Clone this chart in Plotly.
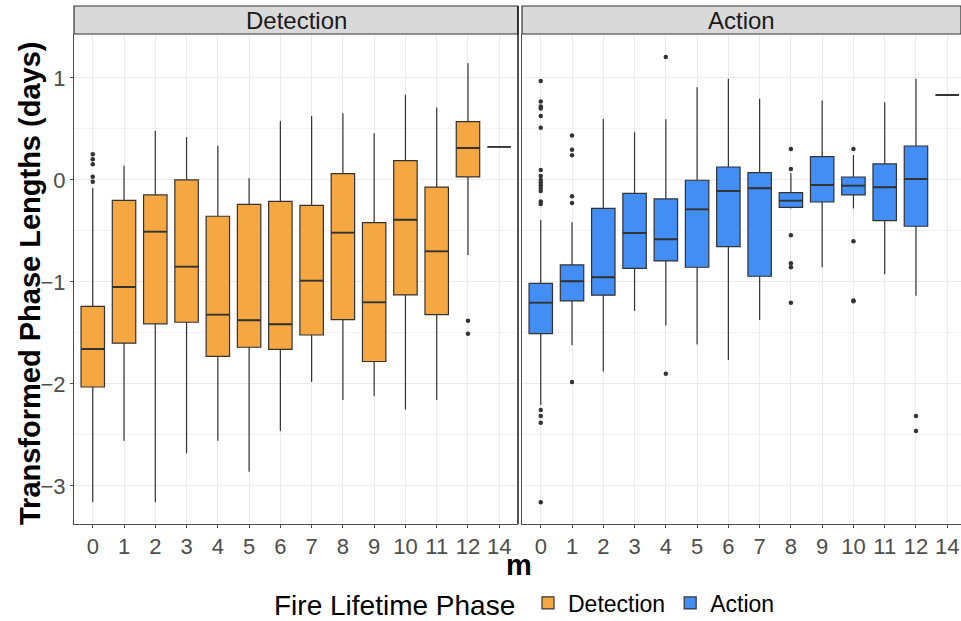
import plotly.graph_objects as go

cats = ["0", "1", "2", "3", "4", "5", "6", "7", "8", "9", "10", "11", "12", "14"]

# Detection panel box statistics
det_low = [-3.16, -2.556, -3.16, -2.68, -2.556, -2.86, -2.46, -1.98, -2.157, -2.12, -2.25, -2.157, -0.735, 0.324]
det_q1 = [-2.03, -1.60, -1.41, -1.395, -1.73, -1.64, -1.66, -1.52, -1.37, -1.78, -1.127, -1.32, 0.03, 0.324]
det_med = [-1.657, -1.05, -0.507, -0.85, -1.32, -1.376, -1.415, -0.987, -0.516, -1.20, -0.39, -0.70, 0.314, 0.324]
det_q3 = [-1.24, -0.20, -0.147, 0.0, -0.356, -0.24, -0.21, -0.25, 0.062, -0.418, 0.19, -0.07, 0.572, 0.324]
det_high = [-0.08, 0.14, 0.48, 0.42, 0.336, 0.016, 0.578, 0.627, 0.654, 0.457, 0.836, 0.71, 1.144, 0.324]
det_out_x = ["0", "0", "0", "0", "0", "12", "12"]
det_out_y = [0.252, 0.203, 0.154, 0.032, -0.017, -1.38, -1.507]

# Action panel box statistics
act_low = [-2.206, -1.62, -1.879, -1.284, -1.428, -1.614, -1.765, -1.373, -0.28, -0.856, -0.281, -0.925, -1.134, 0.833]
act_q1 = [-1.507, -1.186, -1.13, -0.866, -0.794, -0.856, -0.654, -0.944, -0.268, -0.216, -0.147, -0.399, -0.454, 0.833]
act_med = [-1.203, -0.993, -0.954, -0.52, -0.582, -0.288, -0.108, -0.082, -0.203, -0.049, -0.056, -0.072, 0.01, 0.833]
act_q3 = [-1.013, -0.833, -0.278, -0.131, -0.186, -0.003, 0.127, 0.072, -0.124, 0.229, 0.029, 0.157, 0.333, 0.833]
act_high = [-0.392, -0.415, 0.598, 0.467, 0.595, 0.908, 0.993, 0.797, 0.065, 0.778, 0.245, 0.761, 0.993, 0.833]
act_out_x = (["0"] * 19 + ["1"] * 6 + ["4", "4"] + ["8"] * 6 + ["10"] * 4 + ["12", "12"])
act_out_y = [0.97, 0.77, 0.72, 0.70, 0.627, 0.513, 0.098, 0.04, 0.0, -0.026, -0.052, -0.078, -0.108,
             -0.21, -0.235, -2.255, -2.314, -2.38, -3.16,
             0.435, 0.297, 0.242, -0.16, -0.225, -1.98,
             1.206, -1.90,
             0.304, 0.108, -0.542, -0.817, -0.856, -1.203,
             0.304, -0.601, -1.183, -1.19,
             -2.314, -2.461]

phases = ["Detection", "Action"]
fills = ["#F5A742", "#428EF4"]
line_col = "#333333"
FONT = "Liberation Sans, Arial, sans-serif"

fig = go.Figure()
stats = [(det_low, det_q1, det_med, det_q3, det_high, det_out_x, det_out_y),
         (act_low, act_q1, act_med, act_q3, act_high, act_out_x, act_out_y)]
for i, (lo, q1, md, q3, hi, ox, oy) in enumerate(stats):
    xa = "x" if i == 0 else "x2"
    ya = "y" if i == 0 else "y2"
    fig.add_trace(go.Box(
        name=phases[i], x=cats, q1=q1, median=md, q3=q3,
        lowerfence=lo, upperfence=hi, fillcolor=fills[i],
        line=dict(color=line_col, width=1.2), width=0.75, whiskerwidth=0,
        boxpoints=False, xaxis=xa, yaxis=ya, showlegend=True, hoverinfo="skip"))
    # thicker median bar (ggplot's fatten)
    fig.add_trace(go.Box(
        name=phases[i] + " median", x=cats, q1=md, median=md, q3=md,
        lowerfence=md, upperfence=md, fillcolor="rgba(0,0,0,0)",
        line=dict(color=line_col, width=1.9), width=0.75, whiskerwidth=0,
        boxpoints=False, xaxis=xa, yaxis=ya, showlegend=False, hoverinfo="skip"))
    fig.add_trace(go.Scatter(
        x=ox, y=oy, mode="markers", marker=dict(color=line_col, size=4.5),
        xaxis=xa, yaxis=ya, showlegend=False, hoverinfo="skip", cliponaxis=False))

W, H = 961, 621
ml, mr, mt, mb = 74, 0, 34, 97
pw = W - ml - mr
ph = H - mt - mb


def px(xw):
    return (xw - ml) / pw


def py(yw):
    return (H - mb - yw) / ph


yr = [-3.373, 1.431]
grid = "#EBEBEB"
axis_common = dict(
    type="category", categoryorder="array", categoryarray=cats,
    showgrid=True, gridcolor=grid, gridwidth=1.1,
    showline=True, linecolor="#4D4D4D", linewidth=1.1,
    ticks="outside", ticklen=3, tickcolor="#4D4D4D",
    tickfont=dict(family=FONT, size=22, color="#4D4D4D"),
    zeroline=False, fixedrange=True, automargin=False)
yaxis_common = dict(
    range=yr, tickvals=[-3, -2, -1, 0, 1], showgrid=True, gridcolor=grid, gridwidth=1.1,
    minor=dict(tickvals=[-2.5, -1.5, -0.5, 0.5], showgrid=True, gridcolor="#F3F3F3", gridwidth=0.8),
    showline=True, linecolor="#4D4D4D", linewidth=1.1, zeroline=False, automargin=False,
    fixedrange=True)
fig.update_layout(
    xaxis=dict(axis_common, domain=[0, 444 / pw], range=[-0.6, 13.6], anchor="y"),
    xaxis2=dict(axis_common, domain=[448 / pw, 1], range=[-0.6, 13.6 - 5 / 31.25], anchor="y2",
                ticklabeloverflow="allow"),
    yaxis=dict(yaxis_common, ticks="outside", ticklen=3, tickcolor="#4D4D4D",
               tickfont=dict(family=FONT, size=22, color="#4D4D4D"), anchor="x"),
    yaxis2=dict(yaxis_common, showticklabels=False, anchor="x2"),
    width=W, height=H, margin=dict(l=ml, r=mr, t=mt, b=mb, autoexpand=False),
    plot_bgcolor="white", paper_bgcolor="white",
    showlegend=True, hovermode=False,
    legend=dict(orientation="h", x=528 / W, xanchor="left", xref="container",
                y=(H - 603) / H, yanchor="middle", yref="container",
                font=dict(family=FONT, size=23, color="#000000"),
                itemwidth=30, traceorder="normal", bgcolor="rgba(0,0,0,0)"),
)

strip_h = 28 / ph
shapes = []
annotations = []
for i, xr in enumerate(["x domain", "x2 domain"]):
    shapes.append(dict(type="rect", xref=xr, yref="paper", x0=0, x1=1, y0=1, y1=1 + strip_h,
                       fillcolor="#D9D9D9", line=dict(color="#333333", width=1.2), layer="above"))
    annotations.append(dict(text=phases[i], xref=xr, yref="paper", x=0.5, y=1 + strip_h / 2,
                            showarrow=False, xanchor="center", yanchor="middle",
                            font=dict(family=FONT, size=24, color="#1A1A1A")))
# right border of first panel
shapes.append(dict(type="line", xref="x domain", yref="paper", x0=1, x1=1, y0=0, y1=1 + strip_h,
                   line=dict(color="#1A1A1A", width=1.5), layer="above"))
annotations.append(dict(text="<b>Transformed Phase Lengths (days)</b>", xref="paper", yref="paper",
                        x=px(30), y=py(284), textangle=-90, showarrow=False,
                        xanchor="center", yanchor="middle",
                        font=dict(family=FONT, size=29, color="#000000")))
annotations.append(dict(text="<b>m</b>", xref="paper", yref="paper",
                        x=px(519), y=py(565), showarrow=False,
                        xanchor="center", yanchor="middle",
                        font=dict(family=FONT, size=29, color="#000000")))
annotations.append(dict(text="Fire Lifetime Phase", xref="paper", yref="paper",
                        x=px(394.5), y=py(605), showarrow=False,
                        xanchor="center", yanchor="middle",
                        font=dict(family=FONT, size=28, color="#000000")))
fig.update_layout(shapes=shapes, annotations=annotations)

# remove the browser's default page margin so the figure fills the window exactly
fig.write_html("out.html", config={"displayModeBar": False},
               post_script="document.body.style.margin='0';document.body.style.overflow='hidden';")
